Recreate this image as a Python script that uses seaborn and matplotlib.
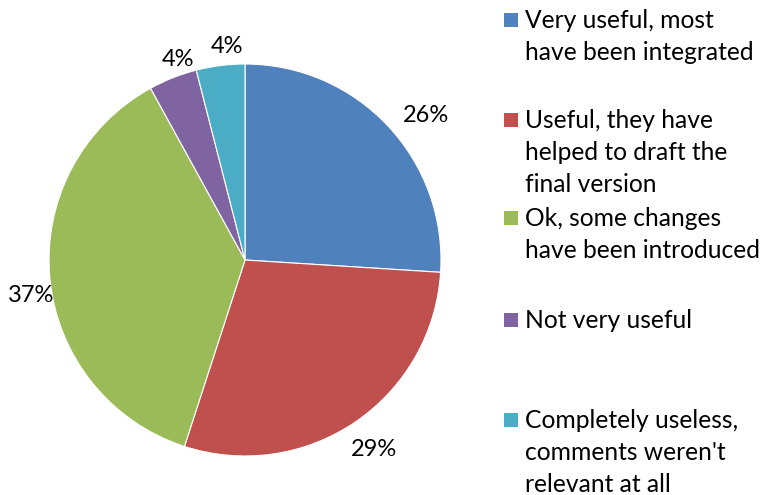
import matplotlib
matplotlib.use("Agg")
import matplotlib.pyplot as plt
import seaborn as sns
from matplotlib.patches import Rectangle
from matplotlib.transforms import ScaledTranslation

sns.set_theme(style="white")
plt.rcParams['font.family'] = ['Lato', 'DejaVu Sans']

categories = ["Very useful, most\nhave been integrated",
              "Useful, they have\nhelped to draft the\nfinal version",
              "Ok, some changes\nhave been introduced",
              "Not very useful",
              "Completely useless,\ncomments weren't\nrelevant at all"]
values = [26, 29, 37, 4, 4]
colors = ["#4F81BD", "#C0504D", "#9BBB59", "#8064A2", "#4BACC6"]

W, H = 765, 495
fig = plt.figure(figsize=(W / 100, H / 100), dpi=100)
cx, cy, r = 245, 260, 196
ax = fig.add_axes([(cx - r) / W, (H - cy - r) / H, 2 * r / W, 2 * r / H])
wedges, texts, autotexts = ax.pie(values, colors=colors, startangle=90, counterclock=False,
                                  autopct='%1.0f%%', pctdistance=1.15,
                                  wedgeprops=dict(edgecolor='white', linewidth=0.8),
                                  textprops=dict(fontsize=17, color='black'))
# small layout nudges of the data labels (pixels: right, down), Excel-like placement
nudges = [(17, 10), (2, 3), (11, 14), (16, 9), (10, 10)]
for t, (dx, dy) in zip(autotexts, nudges):
    t.set_transform(ax.transData + ScaledTranslation(dx / 100, -dy / 100, fig.dpi_scale_trans))
ax.set_xlim(-1, 1)
ax.set_ylim(-1, 1)
ax.set_aspect('equal')
ax.axis('off')

# legend, placed manually
starts = [20, 120, 218, 320, 420]
line_h = 32
for lab, col, y in zip(categories, colors, starts):
    fig.patches.append(Rectangle((504 / W, (H - y - 7) / H), 14 / W, 14 / H,
                                 transform=fig.transFigure, facecolor=col, edgecolor='none'))
    for i, line in enumerate(lab.split("\n")):
        base = y + 8 + line_h * i
        fig.text(525 / W, (H - base) / H, line, fontsize=17.7, va='baseline', ha='left',
                 color='black')

fig.savefig("out.png", dpi=100)
